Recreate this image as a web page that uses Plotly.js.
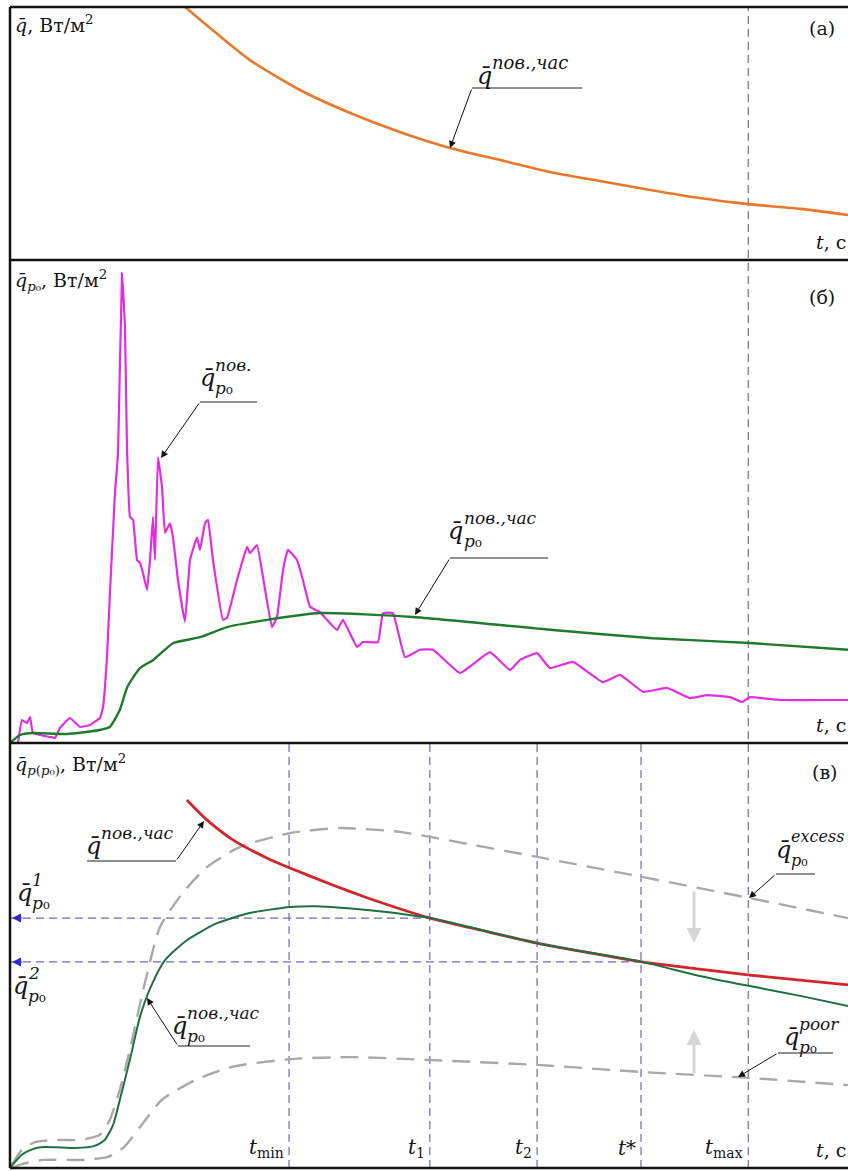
<!DOCTYPE html>
<html>
<head>
<meta charset="utf-8">
<script src="https://cdn.plot.ly/plotly-3.0.1.min.js"></script>
<style>html,body{margin:0;padding:0;background:#fff;}#chart{width:848px;height:1171px;}</style>
</head>
<body>
<div id="chart"></div>
<script>
// ---------- DATA (time in arbitrary units 0..100, heat flux in relative units 0..100) ----------
// Panel (а): hourly surface heat flux
const tA = [20.9, 28.6, 34.6, 40.6, 46.5, 52.5, 58.5, 64.4, 70.4, 76.4, 82.3, 88.1, 94.3, 100];
const qA = [100, 79.1, 67.2, 58.1, 50.6, 44.3, 39.5, 34.8, 31.2, 27.7, 24.5, 22.1, 20.2, 17.8];

// Panel (б): instantaneous (magenta) and hourly (green) flux at p0
const tB_inst = [0.95, 1.43, 2.03, 2.39, 2.74, 4.77, 5.37, 5.97, 7.16, 8.35, 9.55, 10.74, 11.10, 11.58, 11.93,
  12.53, 12.89, 13.37, 13.72, 13.96, 14.32, 14.68, 15.16, 15.51, 15.87, 16.35, 16.71, 17.06, 17.30, 17.66,
  18.14, 18.50, 19.09, 19.45, 20.05, 20.88, 21.48, 22.32, 22.67, 23.27, 23.63, 24.22, 25.42, 25.89, 27.09,
  28.28, 28.64, 29.47, 30.19, 31.26, 31.86, 32.58, 33.17, 34.25, 34.96, 35.80, 36.99, 37.83, 39.02, 39.74,
  41.41, 42.12, 43.91, 44.51, 45.70, 47.14, 48.93, 50.48, 53.70, 57.28, 59.67, 60.86, 62.89, 64.44, 67.18,
  70.76, 72.79, 75.54, 78.40, 81.15, 83.17, 85.92, 87.35, 88.31, 91.89, 100];
const qB_inst = [0, 4.76, 4.14, 5.38, 2.07, 1.24, 1.04, 3.11, 5.18, 3.31, 3.73, 5.18, 7.45, 18.0, 31.1,
  51.8, 60.0, 97.3, 86.1, 61.3, 46.8, 46.2, 37.9, 37.3, 35.2, 31.7, 37.9, 46.8, 37.9, 59.2,
  53.0, 43.5, 45.5, 42.6, 33.7, 25.1, 37.9, 42.6, 40.0, 45.5, 46.2, 37.9, 25.5, 25.9, 33.7,
  40.6, 39.3, 41.0, 34.4, 24.0, 26.1, 35.8, 40.0, 37.9, 33.7, 28.2, 27.1, 25.5, 23.4, 25.5,
  19.9, 20.9, 20.9, 26.9, 26.9, 17.8, 19.3, 19.3, 14.5, 18.8, 15.1, 17.2, 18.6, 15.5, 16.8,
  12.6, 14.1, 10.6, 11.4, 9.3, 9.9, 9.5, 8.5, 9.5, 8.9, 8.9];
const tB_hour = [0, 1.19, 2.74, 6.8, 10.7, 11.9, 13.1, 14.0, 15.5, 17.1, 19.5, 22.7, 25.9, 30.7, 37.0, 48.1, 64.8, 76.7, 88.3, 100];
const qB_hour = [0, 1.66, 2.07, 1.86, 2.69, 3.31, 6.83, 11.6, 15.5, 17.2, 20.7, 21.9, 24.0, 25.5, 26.9, 26.1, 23.4, 21.7, 20.7, 19.3];

// Panel (в): schematic curves
const tC_surf = [21.1, 23.5, 26.6, 30.7, 33.4, 38.5, 42.6, 46.5, 50.1, 56.1, 62.9, 69.2, 75.4, 82.3, 88.3, 94.3, 100];
const qC_surf = [86.6, 81.9, 77.2, 72.9, 70.6, 66.6, 63.6, 61.0, 58.8, 56.0, 52.9, 50.6, 48.5, 46.8, 45.4, 44.2, 43.1];
const tC_p0 = [0, 1.4, 2.4, 3.6, 5.4, 7.8, 10.1, 11.3, 12.3, 13.1, 14.3, 15.5, 16.8, 18.5, 21.1, 24.7, 28.6, 33.4, 36.6, 42.6, 50.1, 62.9, 75.4, 82.3, 88.3, 94.3, 100];
const qC_p0 = [0, 3.1, 4.2, 4.9, 4.9, 4.7, 5.2, 6.6, 10.1, 16.0, 25.4, 35.5, 42.6, 48.9, 53.6, 57.6, 60.0, 61.4, 61.6, 60.7, 58.8, 52.9, 48.5, 45.2, 42.8, 40.5, 38.1];
const tC_excess = [0.2, 1.4, 3.0, 5.4, 8.4, 10.7, 11.9, 13.1, 14.3, 15.9, 17.9, 20.6, 23.5, 27.4, 33.4, 39.4, 46.5, 50.1, 62.9, 75.4, 88.3, 100];
const qC_excess = [0.7, 4.2, 6.1, 6.6, 6.6, 7.8, 11.3, 18.4, 27.8, 41.9, 56.7, 64.7, 70.8, 75.5, 78.8, 80.0, 79.1, 77.9, 73.2, 68.5, 63.5, 58.8];
const tC_poor = [0.2, 1.4, 3.9, 8.5, 11.7, 13.6, 15.5, 18.1, 22.1, 26.5, 33.3, 40.7, 50.1, 63.4, 75.3, 88.2, 100];
const qC_poor = [0, 0.9, 1.9, 1.9, 2.6, 4.9, 9.6, 16.0, 20.7, 23.8, 25.6, 26.1, 25.4, 24.2, 22.6, 21.2, 19.5];

// Characteristic times and levels
const markTimes = [33.3, 50.1, 62.9, 75.3, 88.1];
const markLabels = ['<i>t</i><sub>min</sub>', '<i>t</i><sub>1</sub>', '<i>t</i><sub>2</sub>', '<i>t</i>*', '<i>t</i><sub>max</sub>'];
const levelValues = [58.8, 48.5];       // q̄¹p0 (at t1), q̄²p0 (at t*)
const levelEndTimes = [50.1, 75.3];

// ---------- STYLE / LAYOUT HELPERS ----------
const W = 848, H = 1171, ML = 10, MR = 0, MT = 7, MB = 3;
const PW = W - ML - MR, PH = H - MT - MB;
const px = x => (x - ML) / PW;
const py = y => (H - MB - y) / PH;
const FONT = 'DejaVu Serif';
const QB = 'q\u0304';
const BLUE = '#6b6bb8';

function txt(x, y, text, size, xa, ya, extra) {
  return Object.assign({xref: 'paper', yref: 'paper', x: px(x), y: py(y), text: text, showarrow: false,
    font: {family: FONT, size: size, color: '#151515'}, xanchor: xa || 'left', yanchor: ya || 'middle'}, extra || {});
}
function arrow(hx, hy, tx, ty, color, width, head, size) {
  return {xref: 'paper', yref: 'paper', x: px(hx), y: py(hy), ax: tx - hx, ay: ty - hy,
    axref: 'pixel', ayref: 'pixel', text: '', showarrow: true, arrowhead: head || 2, arrowsize: size || 1.4,
    arrowwidth: width || 1, arrowcolor: color || '#111', standoff: 0, startstandoff: 0};
}
function pline(x0, y0, x1, y1, color, width, dash) {
  return {type: 'line', xref: 'paper', yref: 'paper', x0: px(x0), y0: py(y0), x1: px(x1), y1: py(y1),
    line: {color: color || '#222', width: width || 1, dash: dash || 'solid'}, layer: 'above'};
}
// composite label: q̄ with superscript and optional subscript
function label(qx, qy, sup, sub, qs, ss, anns) {
  anns.push(txt(qx, qy, '<i>' + QB + '</i>', qs, 'center', 'middle'));
  if (sup) anns.push(txt(qx + qs * 0.25, qy - qs * 0.55, '<i>' + sup + '</i>', ss, 'left', 'middle'));
  if (sub) anns.push(txt(qx + qs * 0.25, qy + qs * 0.42, sub, ss, 'left', 'middle'));
}

// ---------- TRACES ----------
const traces = [
  {x: tA, y: qA, xaxis: 'x', yaxis: 'y', mode: 'lines', line: {color: '#e8792b', width: 2.6, shape: 'spline', smoothing: 0.6}},
  {x: tB_inst, y: qB_inst, xaxis: 'x2', yaxis: 'y2', mode: 'lines', line: {color: '#e22de2', width: 2.2, shape: 'spline', smoothing: 0.3}},
  {x: tB_hour, y: qB_hour, xaxis: 'x2', yaxis: 'y2', mode: 'lines', line: {color: '#1f7a2c', width: 2.4, shape: 'spline', smoothing: 0.5}},
  {x: tC_excess, y: qC_excess, xaxis: 'x3', yaxis: 'y3', mode: 'lines', line: {color: '#a9a9a9', width: 2.4, dash: '18px,10px', shape: 'spline', smoothing: 0.6}},
  {x: tC_poor, y: qC_poor, xaxis: 'x3', yaxis: 'y3', mode: 'lines', line: {color: '#a9a9a9', width: 2.4, dash: '18px,10px', shape: 'spline', smoothing: 0.6}},
  {x: tC_surf, y: qC_surf, xaxis: 'x3', yaxis: 'y3', mode: 'lines', line: {color: '#d3262a', width: 2.8, shape: 'spline', smoothing: 0.6}},
  {x: tC_p0, y: qC_p0, xaxis: 'x3', yaxis: 'y3', mode: 'lines', line: {color: '#1f7040', width: 2, shape: 'spline', smoothing: 0.6}}
];

// ---------- SHAPES ----------
const shapes = [];
// frame
shapes.push(pline(10, 7, 10, 1168, '#111', 2.5));
shapes.push(pline(10, 7, 848, 7, '#111', 2.5));
shapes.push(pline(10, 1168, 848, 1168, '#111', 2.5));
shapes.push(pline(10, 260, 848, 260, '#111', 2.5));
shapes.push(pline(10, 743, 848, 743, '#111', 2.5));
// t_max line across all panels
shapes.push({type: 'line', xref: 'x', yref: 'paper', x0: markTimes[4], x1: markTimes[4], y0: 0, y1: 1,
  line: {color: BLUE, width: 1.2, dash: '8px,5px'}, layer: 'below'});
// other characteristic-time lines in panel (в)
markTimes.slice(0, 4).forEach(t => shapes.push({type: 'line', xref: 'x3', yref: 'y3', x0: t, x1: t, y0: 0, y1: 100,
  line: {color: BLUE, width: 1.2, dash: '8px,5px'}, layer: 'below'}));
// horizontal levels
levelValues.forEach((v, i) => shapes.push({type: 'line', xref: 'x3', yref: 'y3', x0: 0, x1: levelEndTimes[i], y0: v, y1: v,
  line: {color: BLUE, width: 1.2, dash: '8px,5px'}, layer: 'below'}));
// leader underlines
shapes.push(pline(472, 88, 582, 88));
shapes.push(pline(200, 402, 257, 402));
shapes.push(pline(450, 558, 548, 558));
shapes.push(pline(87, 861, 176, 861));
shapes.push(pline(776, 874, 815, 874));
shapes.push(pline(178, 1046, 250, 1046));
shapes.push(pline(778, 1053, 833, 1053));

// ---------- ANNOTATIONS ----------
const anns = [];
// panel headers
anns.push(txt(13, 24, '<i>' + QB + '</i>, Вт/м<sup>2</sup>', 19, 'left', 'middle'));
anns.push(txt(837, 28, '(а)', 19, 'right', 'middle'));
anns.push(txt(848, 242, '<i>t</i>, с', 19, 'right', 'middle'));

anns.push(txt(13, 280, '<i>' + QB + '</i><sub><i>p</i>\u2080</sub>, Вт/м<sup>2</sup>', 19, 'left', 'middle'));
anns.push(txt(837, 297, '(б)', 19, 'right', 'middle'));
anns.push(txt(848, 725, '<i>t</i>, с', 19, 'right', 'middle'));

anns.push(txt(13, 765, '<i>' + QB + '</i><sub><i>p</i>(<i>p</i>\u2080)</sub>, Вт/м<sup>2</sup>', 19, 'left', 'middle'));
anns.push(txt(840, 772, '(в)', 19, 'right', 'middle'));
anns.push(txt(848, 1150, '<i>t</i>, с', 19, 'right', 'middle'));

// characteristic time labels
markTimes.forEach((t, i) => anns.push({xref: 'x3', yref: 'paper', x: t, y: py(1148), xshift: -3, text: markLabels[i],
  showarrow: false, xanchor: 'right', yanchor: 'middle', font: {family: FONT, size: 20, color: '#151515'}}));

// curve labels
label(484, 76, 'пов.,час', null, 24, 18, anns);
label(207, 378, 'пов.', '<i>p</i>\u2080', 24, 17, anns);
label(456, 531, 'пов.,час', '<i>p</i>\u2080', 24, 17, anns);
label(93, 846, 'пов.,час', null, 24, 17, anns);
label(783, 850, 'excess', '<i>p</i>\u2080', 24, 16, anns);
label(179, 1026, 'пов.,час', '<i>p</i>\u2080', 24, 17, anns);
label(791, 1037, 'poor', '<i>p</i>\u2080', 24, 17, anns);
label(24, 893, '1', '<i>p</i>\u2080', 24, 17, anns);
label(20, 986, '2', '<i>p</i>\u2080', 24, 17, anns);

// leader arrows
anns.push(arrow(450, 148, 472, 88));
anns.push(arrow(161, 458, 200, 402));
anns.push(arrow(415, 615, 450, 558));
anns.push(arrow(204, 821, 176, 861));
anns.push(arrow(749, 898, 776, 874));
anns.push(arrow(147, 998, 178, 1046));
anns.push(arrow(738, 1077, 778, 1053));
// gray direction arrows
anns.push(arrow(694, 943, 694, 890, '#d6d6d6', 3, 2, 1));
anns.push(arrow(694, 1030, 694, 1075, '#d6d6d6', 3, 2, 1));
// blue level arrows
anns.push(arrow(12, 918, 24, 918, '#2a2acc', 1.2, 2, 1.5));
anns.push(arrow(12, 962, 24, 962, '#2a2acc', 1.2, 2, 1.5));

// ---------- LAYOUT ----------
const hidden = {showgrid: false, zeroline: false, showticklabels: false, showline: false, ticks: '', range: [0, 100], fixedrange: true};
const layout = {
  width: W, height: H, margin: {l: ML, r: MR, t: MT, b: MB, pad: 0},
  font: {family: FONT},
  paper_bgcolor: '#fff', plot_bgcolor: '#fff', showlegend: false,
  xaxis: Object.assign({}, hidden, {anchor: 'y', domain: [0, 1]}),
  xaxis2: Object.assign({}, hidden, {anchor: 'y2', domain: [0, 1]}),
  xaxis3: Object.assign({}, hidden, {anchor: 'y3', domain: [0, 1]}),
  yaxis: Object.assign({}, hidden, {anchor: 'x', domain: [py(260), 1]}),
  yaxis2: Object.assign({}, hidden, {anchor: 'x2', domain: [py(743), py(260)]}),
  yaxis3: Object.assign({}, hidden, {anchor: 'x3', domain: [0, py(743)]}),
  shapes: shapes, annotations: anns
};
Plotly.newPlot('chart', traces, layout, {staticPlot: true, displayModeBar: false});
</script>
</body>
</html>
